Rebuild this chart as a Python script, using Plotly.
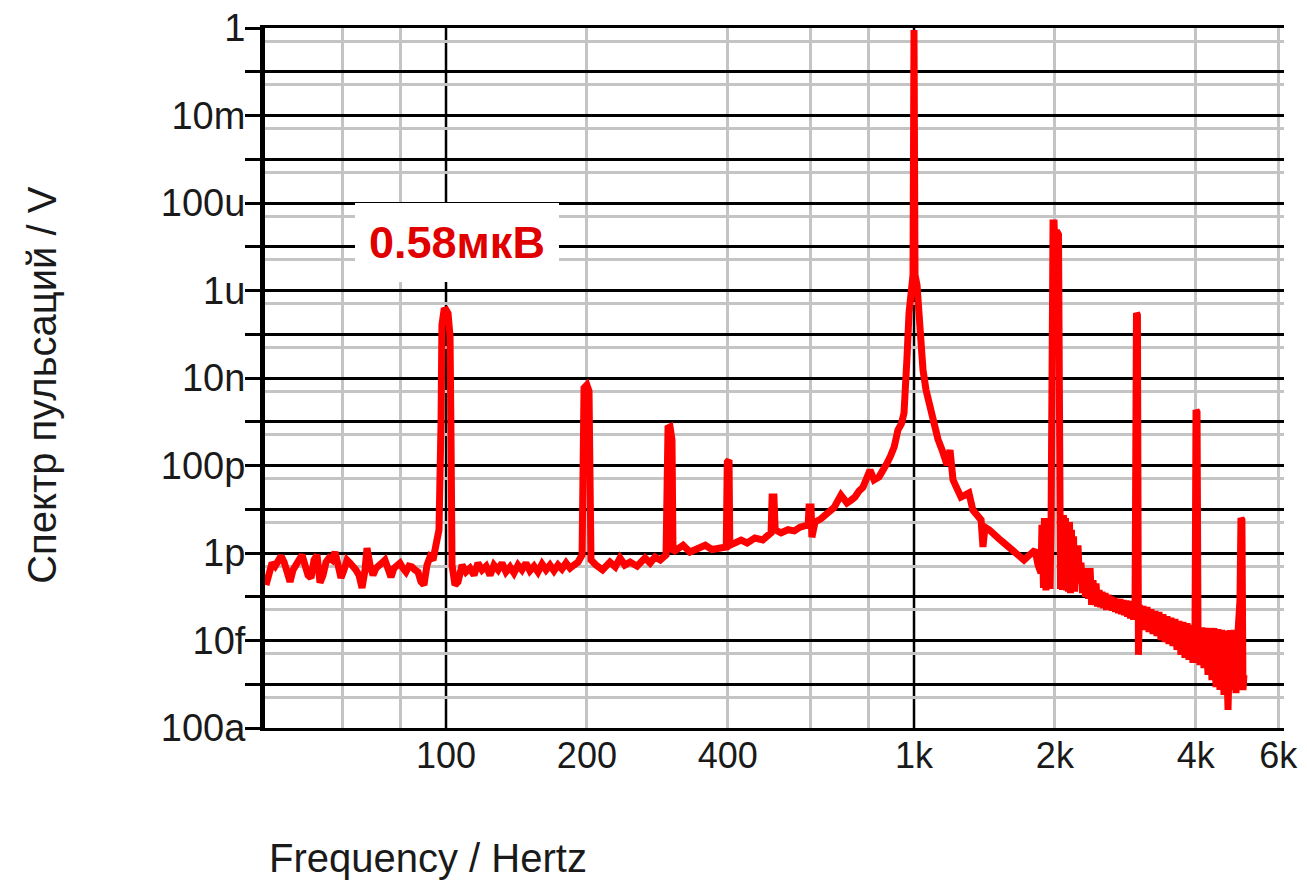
import plotly.graph_objects as go

# ---------------- data ----------------
# Each segment: frequencies in Hz and ripple amplitude in V.
floor_lo_hz = [
    41.24, 41.86, 42.49, 43.12, 43.76, 44.42, 45.08, 45.75, 46.42, 47.11,
    47.82, 48.53, 49.25, 49.96, 50.72, 51.47, 52.24, 53.01, 53.80, 54.60,
    55.42, 56.23, 57.07, 57.92, 58.78, 59.66, 60.54, 61.44, 62.36, 63.28,
    64.22, 65.18, 66.15, 67.13, 67.79, 68.80, 69.82, 70.86, 71.91, 72.98,
    74.06, 75.16, 76.28, 77.42, 78.57, 79.73, 80.92, 82.12, 83.34, 84.58,
    85.84, 87.11, 88.41, 89.72, 91.06, 92.41, 93.80, 95.20, 96.6,
]
floor_lo_v = [
    1.86e-13, 4.1e-13, 5.9e-13, 5.0e-13, 6.9e-13, 8.5e-13, 6.2e-13, 3.1e-13, 2.2e-13, 4.1e-13,
    5.3e-13, 6.9e-13, 9.0e-13, 5.3e-13, 3.1e-13, 2.7e-13, 6.9e-13, 9.0e-13, 2.1e-13, 3.1e-13,
    6.2e-13, 7.7e-13, 6.9e-13, 1.05e-12, 5.3e-13, 2.7e-13, 4.1e-13, 6.9e-13, 5.9e-13, 5.0e-13,
    4.1e-13, 3.1e-13, 1.6e-13, 4.1e-13, 1.3e-12, 5.3e-13, 3.1e-13, 4.5e-13, 5.0e-13, 5.9e-13,
    6.9e-13, 4.1e-13, 2.8e-13, 4.5e-13, 5.3e-13, 5.9e-13, 4.5e-13, 3.7e-13, 5.0e-13, 4.8e-13,
    4.1e-13, 3.7e-13, 2.2e-13, 1.86e-13, 5.3e-13, 8.1e-13, 6.9e-13, 1.5e-12, 3.4e-12,
]

h100_hz = [97.6, 98.0, 99.0, 100.0, 101.0, 102.0, 102.5, 103.0, 104.5, 106.1]
h100_v = [1.1e-9, 1.6e-7, 3.5e-7, 3.6e-7, 3.0e-7, 9.0e-8, 3.8e-10, 5.3e-13, 1.86e-13, 2.2e-13]

floor_mid_hz = [
    108.2, 110.3, 112.5, 114.8, 117.0, 119.4, 121.8, 124.2, 126.6, 129.2,
    131.7, 134.3, 137.0, 139.7, 142.5, 145.3, 148.2, 151.1, 154.2, 157.2,
    160.4, 163.6, 166.8, 170.1, 173.5, 176.9, 180.5, 184.1, 187.7, 191.5,
    195.3,
]
floor_mid_v = [
    5.3e-13, 3.7e-13, 4.5e-13, 3.1e-13, 5.9e-13, 4.1e-13, 5.0e-13, 3.1e-13, 5.3e-13, 4.1e-13,
    5.9e-13, 3.7e-13, 4.8e-13, 3.5e-13, 5.3e-13, 4.1e-13, 5.9e-13, 3.9e-13, 5.0e-13, 3.7e-13,
    5.6e-13, 4.1e-13, 5.3e-13, 3.9e-13, 5.3e-13, 4.3e-13, 5.9e-13, 4.5e-13, 5.3e-13, 6.2e-13,
    9.0e-13,
]

h200_hz = [196.2, 197.2, 200.0, 202.1, 203.0, 204.1, 209.2,
           216.0, 224.0, 230.0, 235.4, 241.0, 247.4, 256.0, 266.2, 273.0, 279.6, 287.0, 295.2]
h200_v = [6.5e-10, 5.9e-9, 6.9e-9, 5.0e-9, 7.9e-11, 6.9e-13, 5.3e-13,
          4.1e-13, 6.2e-13, 4.8e-13, 7.7e-13, 5.3e-13, 6.2e-13, 5.0e-13, 7.7e-13, 5.9e-13, 8.1e-13,
          6.9e-13, 9.0e-13]

h300_hz = [296.7, 298.1, 301.1, 304.0, 305.5,
           311.6, 321, 332, 345, 358, 370, 381, 397]
h300_v = [5.8e-10, 7.2e-10, 7.6e-10, 3.8e-10, 1.05e-12,
          1.17e-12, 1.5e-12, 1.05e-12, 1.3e-12, 1.5e-12, 1.2e-12, 1.23e-12, 1.37e-12]

h400_hz = [399, 402.5, 404, 427, 440, 457, 475, 494.9]
h400_v = [1.2e-10, 1.34e-10, 1.5e-12, 1.98e-12, 1.7e-12, 2.2e-12, 2.0e-12, 2.9e-12]

h500_hz = [497.5, 502.1, 505, 520, 538, 555, 571, 594]
h500_v = [1.9e-11, 1.9e-11, 3.4e-12, 2.9e-12, 3.4e-12, 3.2e-12, 3.9e-12, 4.4e-12]

h600_hz = [596.6, 602.6, 605, 614.5]
h600_v = [1.13e-11, 1.13e-11, 2.3e-12, 5.1e-12]

rise_hz = [632, 652, 675, 698, 719, 733, 748, 763, 778, 805.4,
           821.4, 842, 860, 876, 892, 907, 924, 940, 952, 961,
           966.2, 975.7, 985.3, 995]
rise_v = [6.0e-12, 8.2e-12, 1.1e-11, 2.1e-11, 1.39e-11, 1.6e-11, 1.9e-11, 2.6e-11, 3.2e-11, 7.9e-11,
          4.7e-11, 5.5e-11, 7.5e-11, 1.14e-10, 1.7e-10, 2.65e-10, 6.5e-10, 9.0e-10, 1.58e-9, 6.2e-9,
          3.0e-8, 3.0e-7, 1.34e-6, 2.26e-6]

h1k_hz = [1000, 1005, 1014.9, 1024.9, 1035, 1045.3, 1061, 1082, 1103, 1125,
          1148, 1176.5, 1194, 1211.6, 1235, 1260, 1285, 1310, 1336, 1362,
          1391, 1404, 1418, 1447, 1480, 1520, 1557, 1590, 1620, 1670,
          1718, 1765, 1814, 1841]
h1k_v = [0.9, 2.26e-6, 1.34e-6, 3.0e-7, 6.0e-8, 1.52e-8, 5.3e-9, 2.0e-9, 9.4e-10, 4.0e-10,
         2.26e-10, 1.03e-10, 2.26e-10, 4.7e-11, 3.0e-11, 1.9e-11, 2.1e-11, 2.35e-11, 9.6e-12, 7.5e-12,
         5.7e-12, 1.37e-12, 3.9e-12, 3.4e-12, 2.6e-12, 2.1e-12, 1.69e-12, 1.4e-12, 1.17e-12, 9.0e-13,
         6.9e-13, 9.0e-13, 1.17e-12, 5.3e-13]

h2k_hz = [1868, 1877, 1891, 1900, 1914, 1924, 1934, 1943, 1953, 1963,
          1972, 1982, 1992, 2001, 2006, 2016, 2026, 2036, 2046, 2056,
          2066, 2076, 2086, 2096, 2107, 2117, 2128, 2138, 2149, 2160,
          2170, 2181, 2192, 2203, 2214, 2230, 2241, 2258, 2274, 2291,
          2308, 2325, 2342, 2360, 2378, 2396, 2413, 2431, 2449, 2467,
          2486, 2504, 2522, 2541, 2560, 2579, 2598, 2617, 2636, 2656,
          2676, 2696, 2716, 2736, 2756, 2776, 2797, 2818, 2838, 2859,
          2880, 2902, 2923, 2945, 2967]
h2k_v = [3.5e-13, 4.4e-12, 1.6e-13, 6.3e-12, 1.4e-13, 5.7e-12, 1.86e-13, 6.3e-12, 1.5e-13, 5.7e-12,
         3.3e-5, 3.5e-5, 3.5e-5, 1.0e-5, 4.5e-6, 2.1e-5, 2.1e-5, 1.9e-5, 5.7e-12, 1.5e-13,
         6.3e-12, 1.43e-13, 7.4e-12, 1.6e-13, 6.3e-12, 1.4e-13, 5.1e-12, 1.3e-13, 5.1e-12, 1.2e-13,
         3.4e-12, 1.43e-13, 2.4e-12, 1.3e-13, 1.5e-12, 2.4e-13, 1.5e-12, 2.0e-13, 6.0e-13, 1.22e-13,
         4.5e-13, 1.0e-13, 4.5e-13, 9.0e-14, 4.5e-13, 6.5e-14, 2.4e-13, 6.5e-14, 2.0e-13, 6.0e-14,
         1.43e-13, 5.8e-14, 1.3e-13, 5.5e-14, 1.22e-13, 5.0e-14, 1.1e-13, 5.0e-14, 1.0e-13, 4.8e-14,
         9.4e-14, 4.5e-14, 9.0e-14, 4.2e-14, 8.8e-14, 4.0e-14, 8.4e-14, 3.8e-14, 8.2e-14, 3.5e-14,
         8.0e-14, 3.2e-14, 7.6e-14, 3.0e-14, 7.2e-14]

h3k_hz = [2988, 3002, 3017, 3032,
          3055, 3085, 3116, 3147, 3178, 3209, 3241, 3273, 3305, 3338,
          3371, 3404, 3438, 3472, 3506, 3541, 3576, 3611, 3647, 3683,
          3719, 3756, 3793, 3831, 3868, 3907, 3945]
h3k_v = [3.06e-7, 2.75e-7, 4.7e-15, 6.5e-14,
         1.93e-14, 6.1e-14, 1.74e-14, 5.8e-14, 1.56e-14, 5.2e-14, 1.41e-14, 4.7e-14, 1.27e-14, 4.5e-14,
         1.03e-14, 4.0e-14, 9.2e-15, 3.6e-14, 8.3e-15, 3.3e-14, 7.5e-15, 3.1e-14, 6.1e-15, 2.8e-14,
         4.7e-15, 2.65e-14, 4.0e-15, 2.5e-14, 3.6e-15, 2.26e-14, 3.1e-15]

h4k_hz = [3985, 4005, 4025, 4045,
          4084, 4124, 4165, 4206, 4248, 4290, 4332, 4375, 4419, 4462,
          4506, 4551, 4596, 4642, 4688, 4733, 4780, 4828, 4875, 4924]
h4k_v = [1.74e-14, 1.86e-9, 1.67e-9, 1.03e-14,
         2.75e-15, 2.0e-14, 2.35e-15, 1.93e-14, 1.63e-15, 1.93e-14, 1.25e-15, 1.93e-14, 8.6e-16, 1.83e-14,
         7.4e-16, 1.74e-14, 5.7e-16, 1.65e-14, 2.6e-16, 1.74e-14, 7.4e-16, 1.74e-14, 6.3e-16, 1.56e-14]

h5k_hz = [4972, 4996, 5020, 5046, 5070]
h5k_v = [8.4e-14, 6.3e-12, 5.7e-12, 7.4e-16, 1.63e-15]

segments = [
    (floor_lo_hz, floor_lo_v), (h100_hz, h100_v), (floor_mid_hz, floor_mid_v),
    (h200_hz, h200_v), (h300_hz, h300_v), (h400_hz, h400_v), (h500_hz, h500_v),
    (h600_hz, h600_v), (rise_hz, rise_v), (h1k_hz, h1k_v), (h2k_hz, h2k_v),
    (h3k_hz, h3k_v), (h4k_hz, h4k_v), (h5k_hz, h5k_v),
]
freq_hz, ripple_v = [], []
for i, (fs, vs) in enumerate(segments):
    assert len(fs) == len(vs), (i, len(fs), len(vs))
    freq_hz += fs
    ripple_v += vs

x_tick_vals = [100, 200, 400, 1000, 2000, 4000, 6000]
x_tick_text = ["100", "200", "400", "1k", "2k", "4k", "6k"]
x_minor_grid = [60, 80, 200, 400, 600, 800, 2000, 4000, 6000]
x_major_grid = [100, 1000]

y_tick_vals = [10.0 ** e for e in range(-16, 1)]
y_tick_text = ["100a", "", "10f", "", "1p", "", "100p", "", "10n", "", "1u", "", "100u", "",
               "10m", "", "1"]
y_minor_grid = [5 * 10.0 ** e for e in range(-17, 0)]

x_range = [1.6132, 3.7906]   # log10 of 41 Hz .. 6.17 kHz
y_range = [-16, 0]           # log10 of 100a .. 1

FONT = "Liberation Sans, Arial, sans-serif"
TXT = "#1a1a1a"
GRAY = "#c4c4c4"

fig = go.Figure()
fig.add_trace(go.Scatter(
    x=freq_hz, y=ripple_v,
    mode="lines", line=dict(color="#ff0000", width=7),
    showlegend=False, hoverinfo="skip",
))

# black verticals at the decade frequencies (between grid and trace)
for xv in x_major_grid:
    fig.add_shape(type="line", xref="x", yref="paper", x0=xv, x1=xv, y0=0, y1=1,
                  line=dict(color="black", width=2.5), layer="between")

fig.update_layout(
    width=1299, height=875,
    margin=dict(l=257, r=23, t=20, b=155, autoexpand=False),
    paper_bgcolor="white", plot_bgcolor="white",
    font=dict(family=FONT, size=36, color=TXT),
    xaxis=dict(
        type="log", range=x_range,
        tickmode="array", tickvals=x_tick_vals, ticktext=x_tick_text,
        showgrid=False, ticks="", zeroline=False, ticklabelstandoff=-6,
        ticklabeloverflow="allow",
        showline=True, mirror=True, linewidth=3, linecolor="black",
        tickfont=dict(size=36, family=FONT, color=TXT),
        minor=dict(tickmode="array", tickvals=x_minor_grid, showgrid=True,
                   gridcolor=GRAY, gridwidth=3, ticks=""),
    ),
    yaxis=dict(
        type="log", range=y_range,
        tickmode="array", tickvals=y_tick_vals, ticktext=y_tick_text,
        showgrid=True, gridcolor="black", gridwidth=2.5,
        ticks="outside", ticklen=15, tickwidth=3, tickcolor="black",
        ticklabelstandoff=-8, ticklabeloverflow="allow",
        showline=True, linewidth=5, linecolor="black", zeroline=False,
        tickfont=dict(size=38, family=FONT, color=TXT),
        minor=dict(tickmode="array", tickvals=y_minor_grid, showgrid=True,
                   gridcolor=GRAY, gridwidth=3, ticks=""),
    ),
    annotations=[
        dict(text="0.58мкВ", xref="paper", yref="paper", x=0.188, y=0.693,
             xanchor="center", yanchor="middle", showarrow=False,
             font=dict(family=FONT, size=45, color="#e00000", weight="bold"),
             bgcolor="white", borderpad=14, borderwidth=0),
        dict(text="Frequency / Hertz", xref="paper", yref="paper", x=0.002, y=-0.186,
             xanchor="left", yanchor="middle", showarrow=False,
             font=dict(family=FONT, size=40, color=TXT)),
        dict(text="Спектр пульсаций / V", xref="paper", yref="paper", x=-0.219, y=0.49,
             xanchor="center", yanchor="middle", showarrow=False, textangle=-90,
             font=dict(family=FONT, size=40, color=TXT)),
    ],
)

fig.write_html("out.html")
